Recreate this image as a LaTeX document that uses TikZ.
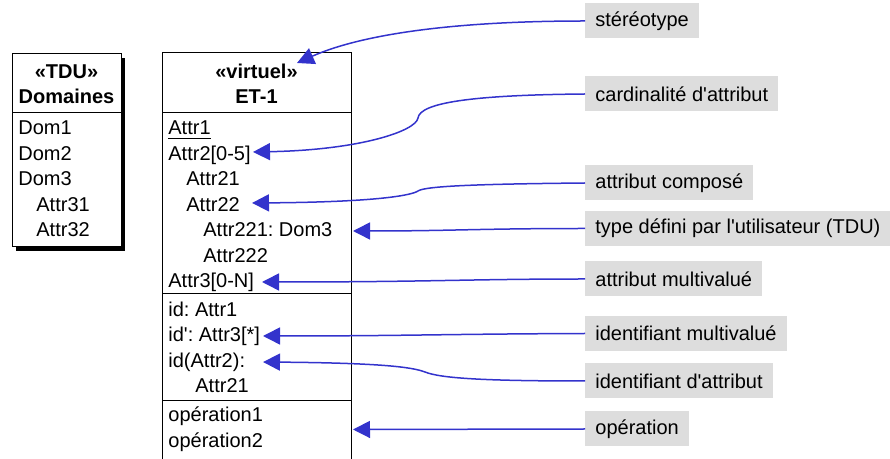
\documentclass[tikz,border=0pt]{standalone}
\usepackage{fontspec}
\setmainfont{Liberation Sans}
\usetikzlibrary{arrows.meta}
\definecolor{callout}{RGB}{51,51,204}
\definecolor{notefill}{RGB}{221,221,221}
\newcommand{\sq}{\textquotesingle}
\frenchspacing

\begin{document}
\begin{tikzpicture}[x=0.5pt,y=-0.5pt,
  txt/.style={font=\fontsize{10}{12}\selectfont},
  row/.style={txt, anchor=base west, inner sep=0pt},
  head/.style={anchor=base, inner sep=0pt, font=\fontsize{10}{12}\selectfont\bfseries},
  note/.style={txt, fill=notefill, anchor=west, inner xsep=5pt, inner ysep=0pt, minimum height=17.5pt},
  frame/.style={line width=0.5pt},
  pointer/.style={draw=callout, line width=0.75pt, -{Triangle[length=8.5pt,width=8.5pt]}}
]
\useasboundingbox (0,0) rectangle (890,459);

% ---- user-defined type class, with drop shadow ----
\fill (16,58) rectangle (125,251);
\draw[frame, fill=white] (12,54) rectangle (121,247);
\draw[frame] (12,113) -- (121,113);
\node[head] (tdu-st)   at (66.5,79)  {«TDU»};
\node[head] (tdu-name) at (66.5,104) {Domaines};
\node[row] (dom1)   at (18,135)   {Dom1};
\node[row] (dom2)   at (18,160.5) {Dom2};
\node[row] (dom3)   at (18,186)   {Dom3};
\node[row] (attr31) at (36,211.5) {Attr31};
\node[row] (attr32) at (36,237)   {Attr32};

% ---- entity type ET-1 ----
\draw[frame] (162,53) rectangle (351,470);
\draw[frame] (162,113) -- (351,113);
\draw[frame] (162,294) -- (351,294);
\draw[frame] (162,401) -- (351,401);
\node[head] (et-st)   at (256.5,79)  {«virtuel»};
\node[head] (et-name) at (256.5,104) {ET-1};
\node[row] (a1)    at (168,135)   {\underline{Attr1}};
\node[row] (a2)    at (168,160.5) {Attr2[0-5]};
\node[row] (a21)   at (186,186)   {Attr21};
\node[row] (a22)   at (186,211.5) {Attr22};
\node[row] (a221)  at (203,237)   {Attr221: Dom3};
\node[row] (a222)  at (203,262.5) {Attr222};
\node[row] (a3)    at (168,288)   {Attr3[0-N]};
\node[row] (id1)   at (168,316.5) {id: Attr1};
\node[row] (id2)   at (168,342)   {id\sq: Attr3[*]};
\node[row] (id3)   at (168,367.5) {id(Attr2):};
\node[row] (id3b)  at (195,393)   {Attr21};
\node[row] (op1)   at (168,422)   {opération1};
\node[row] (op2)   at (168,448)   {opération2};

% ---- arrow tips ----
\coordinate (t-st)    at (297,63);
\coordinate (t-card)  at (253,152);
\coordinate (t-comp)  at (252,203);
\coordinate (t-tdu)   at (353,231);
\coordinate (t-multi) at (262,282);
\coordinate (t-idm)   at (263,336);
\coordinate (t-ida)   at (263,362);
\coordinate (t-op)    at (353,429.5);

% ---- explanatory notes ----
\node[note] (n-st)    at (585,21)  {stéréotype};
\node[note] (n-card)  at (585,94)  {cardinalité d\sq attribut};
\node[note] (n-comp)  at (585,183) {attribut composé};
\node[note] (n-tdu)   at (585,228.5) {type défini par l\sq utilisateur (TDU)};
\node[note] (n-multi) at (585,279) {attribut multivalué};
\node[note] (n-idm)   at (585,333.5) {identifiant multivalué};
\node[note] (n-ida)   at (585,381) {identifiant d\sq attribut};
\node[note] (n-op)    at (585,429) {opération};

% ---- connectors ----
\draw[pointer] (n-st.west) .. controls (450,21) and (360,35) .. (t-st);
\draw[pointer] (n-card.west) .. controls (470,95) and (420,103) .. (418,118)
  .. controls (416,131) and (360,150) .. (t-card);
\draw[pointer] (n-comp.west) .. controls (480,184) and (425,186) .. (418,191)
  .. controls (412,195) and (380,202) .. (t-comp);
\draw[pointer] (n-tdu.west) .. controls (480,228.5) and (450,231) .. (t-tdu);
\draw[pointer] (n-multi.west) .. controls (470,279) and (430,282) .. (t-multi);
\draw[pointer] (n-idm.west) .. controls (450,334) and (400,336) .. (t-idm);
\draw[pointer] (n-ida.west) .. controls (480,381) and (440,378) .. (425,372)
  .. controls (412,367) and (380,363) .. (t-ida);
\draw[pointer] (n-op.west) -- (t-op);
\end{tikzpicture}
\end{document}
